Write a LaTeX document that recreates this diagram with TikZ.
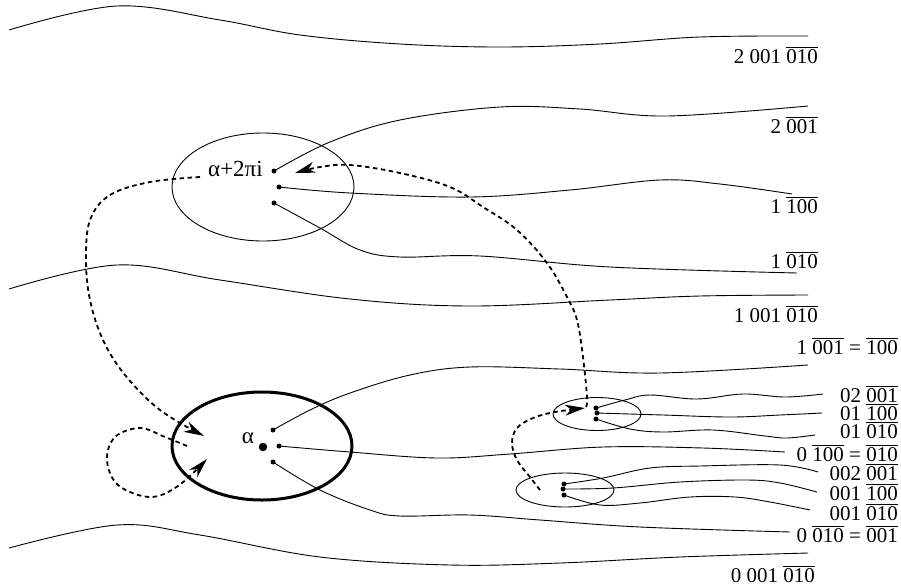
\documentclass[tikz,border=0pt]{standalone}
\usepackage{fontspec}
\setmainfont{Liberation Serif}
\usetikzlibrary{arrows.meta,shapes.geometric}
\newcommand{\ovl}[1]{$\overline{\hbox{#1}}$}
\begin{document}
\begin{tikzpicture}[x=1pt,y=-1pt,
  curve/.style={line width=0.9pt},
  dashcurve/.style={line width=1.8pt, dash pattern=on 4.5pt off 3.5pt, -{Stealth[length=20pt,width=11pt,inset=6pt]}},
  dot/.style={circle,fill,inner sep=0,minimum size=5pt},
  bigdot/.style={circle,fill,inner sep=0,minimum size=8.5pt},
  oval/.style={draw,ellipse,inner sep=0,line width=0.9pt},
  lab/.style={font=\fontsize{21}{25}\selectfont, inner sep=0},
  greek/.style={font=\fontsize{23}{27}\selectfont, inner sep=0}]
\useasboundingbox (0,0) rectangle (901,587);

% ellipses
\node[oval,minimum width=182pt,minimum height=108pt] (Etop) at (263,187) {};
\node[oval,line width=3pt,minimum width=180pt,minimum height=108pt] (Ealpha) at (262,446) {};
\node[oval,minimum width=88pt,minimum height=33pt] (Es1) at (597,414) {};
\node[oval,minimum width=98pt,minimum height=34pt] (Es2) at (565,490) {};

% dots
\node[dot] (t1) at (274,171) {};
\node[dot] (t2) at (279,187) {};
\node[dot] (t3) at (274,203) {};
\node[dot] (a1) at (273,430) {};
\node[dot] (a2) at (279,446) {};
\node[dot] (a3) at (273,462) {};
\node[bigdot] (ac) at (263,447) {};
\node[dot] (p1) at (596,408) {};
\node[dot] (p2) at (597,413) {};
\node[dot] (p3) at (596,419) {};
\node[dot] (q1) at (564,484) {};
\node[dot] (q2) at (563,489) {};
\node[dot] (q3) at (564,495) {};

% labels
\node[greek,anchor=base west] (Ltop) at (208,176) {α+2πi};
\node[greek,anchor=base] (Lal) at (248,443) {α};
\node[lab,anchor=base east] (L1) at (818,63) {2 001 \ovl{010}};
\node[lab,anchor=base east] (L2) at (818,133) {2 \ovl{001}};
\node[lab,anchor=base east] (L3) at (818,213) {1 \ovl{100}};
\node[lab,anchor=base east] (L4) at (818,268) {1 \ovl{010}};
\node[lab,anchor=base east] (L5) at (818,322) {1 001 \ovl{010}};
\node[lab,anchor=base east] (L6) at (898,354) {1 \ovl{001} = \ovl{100}};
\node[lab,anchor=base east] (L7) at (898,402) {02 \ovl{001}};
\node[lab,anchor=base east] (L8) at (898,420) {01 \ovl{100}};
\node[lab,anchor=base east] (L9) at (898,438) {01 \ovl{010}};
\node[lab,anchor=base east] (L10) at (898,461) {0 \ovl{100} = \ovl{010}};
\node[lab,anchor=base east] (L11) at (898,480) {002 \ovl{001}};
\node[lab,anchor=base east] (L12) at (898,500) {001 \ovl{100}};
\node[lab,anchor=base east] (L13) at (898,520) {001 \ovl{010}};
\node[lab,anchor=base east] (L14) at (898,542) {0 \ovl{010} = \ovl{001}};
\node[lab,anchor=base east] (L15) at (815,582) {0 001 \ovl{010}};

% free long curves
\draw[curve] plot[smooth,tension=0.6] coordinates {(9,30) (117,6) (220,20) (300,35) (400,44) (500,47) (600,44) (700,37) (808,36)};
\draw[curve] plot[smooth,tension=0.6] coordinates {(9,289) (117,265) (220,280) (350,299) (470,306) (610,300) (700,296) (808,295)};
\draw[curve] plot[smooth,tension=0.6] coordinates {(9,548) (117,525) (200,535) (320,557) (450,565) (560,563) (680,557) (808,553)};

% curves from alpha+2pi i
\draw[curve] plot[smooth,tension=0.6] coordinates {(t1.center) (330,142) (400,120) (500,107) (580,109) (667,116) (808,106)};
\draw[curve] plot[smooth,tension=0.6] coordinates {(t2.center) (350,193) (470,197) (570,190) (660,180) (720,184) (792,194)};
\draw[curve] plot[smooth,tension=0.6] coordinates {(t3.center) (320,228) (360,250) (400,257) (480,256) (610,267) (797,273)};

% curves from alpha
\draw[curve] plot[smooth,tension=0.6] coordinates {(a1.center) (310,410) (350,393) (410,375) (470,367) (560,369) (660,373) (808,365)};
\draw[curve] plot[smooth,tension=0.6] coordinates {(a2.center) (350,452) (437,458) (510,454) (603,447) (703,448) (785,452)};
\draw[curve] plot[smooth,tension=0.6] coordinates {(a3.center) (320,490) (370,510) (400,516) (470,515) (540,520) (640,527) (790,532)};

% small ellipse 1 curves
\draw[curve] plot[smooth,tension=0.6] coordinates {(p1.center) (625,400) (650,395) (697,399) (743,394) (785,397) (823,394)};
\draw[curve] plot[smooth,tension=0.6] coordinates {(p2.center) (663,415) (730,417) (780,415) (822,413)};
\draw[curve] plot[smooth,tension=0.6] coordinates {(p3.center) (630,429) (663,432) (713,430) (765,436) (787,438) (815,435)};

% small ellipse 2 curves
\draw[curve] plot[smooth,tension=0.6] coordinates {(q1.center) (603,478) (650,468) (700,466) (780,465) (818,472)};
\draw[curve] plot[smooth,tension=0.6] coordinates {(q2.center) (613,488) (680,482) (747,480) (780,483) (817,492)};
\draw[curve] plot[smooth,tension=0.6] coordinates {(q3.center) (600,505) (640,503) (690,497) (735,497) (770,502) (810,510)};

% dashed arrows
\draw[dashcurve] plot[smooth,tension=0.6] coordinates {(200,177) (150,182) (110,195) (90,220) (86,260) (90,300) (103,340) (125,375) (160,410) (204,436)};
\draw[dashcurve] plot[smooth,tension=0.6] coordinates {(586,407) (587,397) (583,357) (577,320) (567,297) (547,263) (517,230) (483,207) (450,187) (400,173) (350,165) (320,167) (295,173)};
\draw[dashcurve] plot[smooth,tension=0.6] coordinates {(540,490) (530,477) (517,460) (512,443) (517,428) (533,418) (555,412) (585,408)};
\draw[dashcurve] plot[smooth,tension=0.6] coordinates {(187,446) (165,437) (140,428) (115,437) (107,460) (118,485) (150,497) (178,486) (207,459)};
\end{tikzpicture}
\end{document}
